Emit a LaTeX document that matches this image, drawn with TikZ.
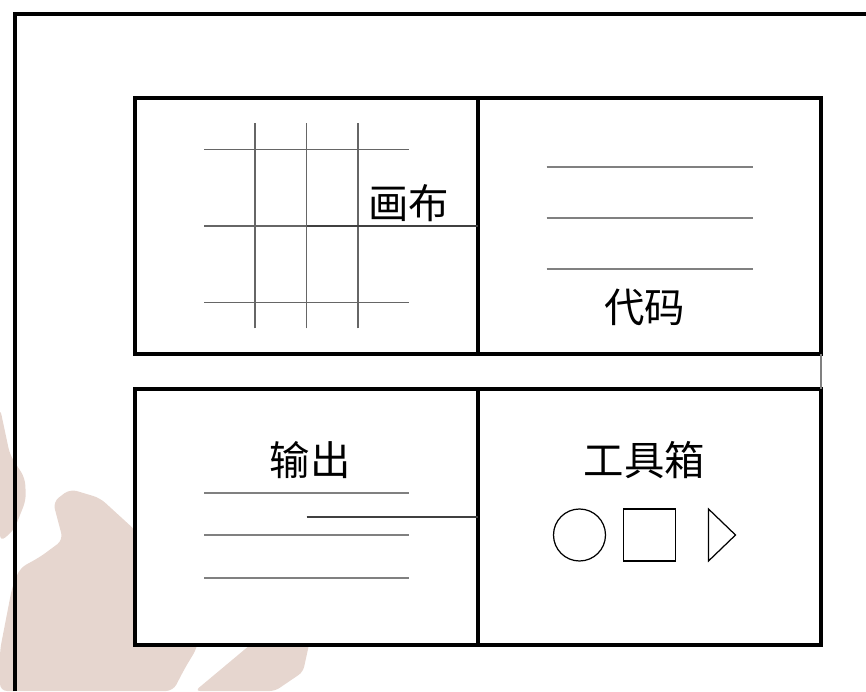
\documentclass[tikz,border=0pt]{standalone}
\usepackage{fontspec}
\newfontfamily\cjk{Noto Sans CJK SC}
\usetikzlibrary{positioning}
\definecolor{inkwash}{RGB}{230,214,207}

\begin{document}
\begin{tikzpicture}[
    pane/.style={draw, line width=2pt, fill=white, minimum width=6.86cm,
                 minimum height=5.12cm, inner sep=0pt, outer sep=0pt},
    title/.style={font=\cjk\fontsize{23}{27}\selectfont, inner sep=0pt},
    gridline/.style={gray!80!black, line width=0.7pt},
    textline/.style={gray, line width=0.9pt},
    link/.style={black!75, line width=0.9pt},
    tool/.style={draw, line width=0.7pt, inner sep=0pt}]
\useasboundingbox (0,0) rectangle (17.32,13.82);
% ink wash behind the panes
\fill[inkwash, rounded corners=4pt] (1.40,4.04) -- (2.00,3.86) -- (2.70,3.22) -- (3.20,2.42)
    -- (4.00,1.32) -- (3.94,0.86) -- (3.70,0.46) -- (3.46,0) -- (0,0) -- (0,0.82)
    -- (0.24,2.06) -- (0.40,2.46) -- (0.80,2.68) -- (1.26,3.02) -- (1.06,3.78) -- cycle;
\fill[inkwash, rounded corners=4pt] (0,5.66) -- (0.20,4.72) -- (0.50,4.26) -- (0.52,3.82)
    -- (0.28,3.22) -- (0,2.98) -- cycle;
\fill[inkwash, rounded corners=3pt] (5.86,1.40) -- (6.20,1.32) -- (6.20,1.02) -- (6.06,0.38)
    -- (5.50,0) -- (3.90,0) -- (5.00,0.92) -- cycle;
% window frame
\draw[line width=2pt] (0.30,0) -- (0.30,13.54) -- (17.32,13.54);
% panes
\node[pane] (canvas) at (6.13,9.30) {};
\node[pane, right=0pt of canvas] (code) {};
\node[pane, below=0.70cm of canvas] (output) {};
\node[pane, right=0pt of output] (tools) {};
\draw[gray, line width=0.6pt] (code.south east) -- (tools.north east);
% canvas grid
\foreach \d in {-1.53,0,1.53}
    \draw[gridline] ([shift={(-2.05,\d)}]canvas.center) -- ([shift={(2.05,\d)}]canvas.center);
\foreach \d in {-1.03,0,1.03}
    \draw[gridline] ([shift={(\d,-2.05)}]canvas.center) -- ([shift={(\d,2.05)}]canvas.center);
\draw[link] (canvas.center) -- (canvas.east);
\node[title] (canvaslabel) at ([shift={(2.04,0.46)}]canvas.center) {画布};
% code lines
\foreach \d in {1.18,0.16,-0.86}
    \draw[textline] ([shift={(-2.06,\d)}]code.center) -- ([shift={(2.06,\d)}]code.center);
\node[title] (codelabel) at ([shift={(-0.10,-1.62)}]code.center) {代码};
% output lines
\node[title] (outputlabel) at ([shift={(0.07,1.14)}]output.center) {输出};
\foreach \d in {0.48,-0.36,-1.22}
    \draw[textline] ([shift={(-2.05,\d)}]output.center) -- ([shift={(2.05,\d)}]output.center);
\draw[link] (output.center) -- (output.east);
% toolbox
\node[title] (toolslabel) at ([shift={(-0.10,1.14)}]tools.center) {工具箱};
\node[tool, circle, minimum size=1.04cm] (round) at ([shift={(-1.40,-0.36)}]tools.center) {};
\node[tool, minimum size=1.04cm] (square) at ([shift={(0,-0.36)}]tools.center) {};
\draw[line width=0.7pt] ([shift={(1.18,0.16)}]tools.center) -- ([shift={(1.72,-0.36)}]tools.center)
    -- ([shift={(1.18,-0.88)}]tools.center) -- cycle;
\end{tikzpicture}
\end{document}
